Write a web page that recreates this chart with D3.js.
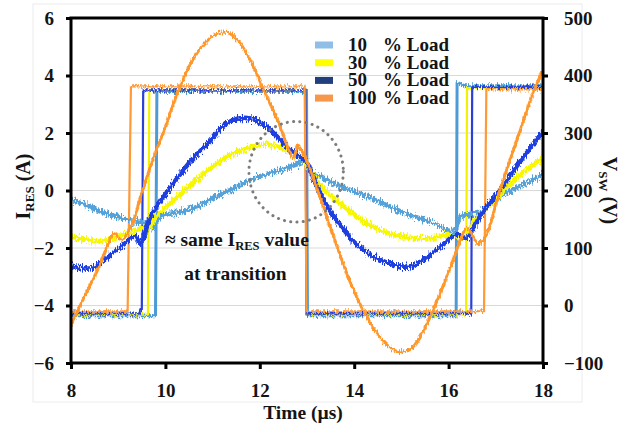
<!DOCTYPE html>
<html>
<head>
<meta charset="utf-8">
<script src="https://cdn.jsdelivr.net/npm/d3@7"></script>
<style>
  html, body { margin: 0; padding: 0; background: #fff; }
  svg { display: block; }
  svg text { font-family: "Liberation Serif", "DejaVu Serif", "Times New Roman", Times, serif; font-weight: bold; fill: #141414; }
</style>
</head>
<body>
<svg id="chart" width="625" height="424"></svg>
<script>
// Time axis (µs), current axis (A) and switch-node voltage axis (V)
const timeTicks = [8, 10, 12, 14, 16, 18];
const currentTicks = [-6, -4, -2, 0, 2, 4, 6];
const voltageTicks = [-100, 0, 100, 200, 300, 400, 500];
const gridCurrents = [-4, -2, 0, 2, 4];

const loads = ["10", "30", "50", "100"];

// Resonant current I_RES [time µs, current A]
const iRes10 = [
  [8.0,-0.32],[8.3,-0.5],[8.6,-0.72],[8.9,-0.88],[9.3,-1.05],[9.6,-1.15],[9.72,-1.35],[9.8,-1.1],
  [9.9,-0.9],[10.3,-0.75],[10.7,-0.55],[11.05,-0.22],[11.4,0.03],[11.75,0.32],[12.1,0.55],
  [12.45,0.72],[12.8,0.92],[12.96,1.0],[13.05,0.65],[13.3,0.48],[13.55,0.26],[13.9,0.03],
  [14.26,-0.2],[14.6,-0.45],[14.97,-0.72],[15.3,-0.92],[15.68,-1.13],[15.96,-1.38],[16.1,-1.4],
  [16.17,-1.25],[16.25,-0.9],[16.4,-0.84],[16.73,-0.67],[17.08,-0.22],[17.44,0.09],[17.79,0.38],[18.0,0.55]
];
const iRes30 = [
  [8.0,-1.6],[8.3,-1.7],[8.6,-1.77],[8.93,-1.65],[9.29,-1.42],[9.57,-1.3],[9.64,-1.35],[9.78,-0.96],
  [9.99,-0.61],[10.34,-0.09],[10.7,0.43],[11.05,0.9],[11.4,1.25],[11.76,1.48],[12.11,1.6],
  [12.46,1.48],[12.75,1.25],[12.9,1.13],[12.99,0.9],[13.28,0.18],[13.55,-0.24],[13.91,-0.72],
  [14.26,-1.13],[14.62,-1.42],[14.97,-1.6],[15.32,-1.66],[15.68,-1.65],[16.03,-1.54],[16.31,-1.65],
  [16.4,-1.5],[16.53,-1.07],[16.73,-0.72],[17.08,-0.14],[17.44,0.43],[17.79,0.9],[18.0,1.13]
];
const iRes50 = [
  [8.0,-2.64],[8.44,-2.7],[8.72,-2.4],[9.07,-1.94],[9.36,-1.6],[9.46,-1.85],[9.55,-1.6],[9.64,-1.07],
  [9.85,-0.49],[10.2,0.32],[10.56,1.07],[10.91,1.65],[11.26,2.29],[11.62,2.52],[11.9,2.46],
  [12.18,2.17],[12.46,1.71],[12.68,1.36],[12.89,1.13],[12.99,1.01],[13.13,0.43],[13.41,-0.5],
  [13.7,-1.19],[14.05,-1.88],[14.4,-2.29],[14.83,-2.58],[15.18,-2.64],[15.53,-2.35],[15.88,-1.88],
  [16.17,-1.54],[16.38,-1.65],[16.53,-1.3],[16.73,-0.72],[17.08,-0.02],[17.44,0.84],[17.79,1.6],[18.0,2.06]
];
const iRes100 = [
  [8.0,-4.7],[8.3,-3.64],[8.58,-2.7],[8.86,-1.6],[8.92,-1.5],[9.07,-1.72],[9.29,-1.19],[9.5,-0.09],
  [9.71,0.96],[9.99,2.17],[10.27,3.45],[10.56,4.49],[10.84,5.13],[11.12,5.48],[11.33,5.48],
  [11.55,5.19],[11.83,4.43],[12.11,3.4],[12.39,2.4],[12.6,1.48],[12.72,1.12],[12.8,1.55],
  [12.9,1.35],[13.06,0.78],[13.28,-0.26],[13.55,-1.54],[13.91,-3.16],[14.26,-4.38],[14.62,-5.25],
  [14.9,-5.59],[15.18,-5.54],[15.46,-4.9],[15.75,-3.86],[16.03,-2.7],[16.24,-1.77],[16.38,-1.3],
  [16.5,-1.55],[16.62,-1.85],[16.75,-1.7],[16.85,-1.35],[17.08,-0.02],[17.44,1.71],[17.79,3.39],[18.0,4.2]
];

// Switch-node voltage V_SW [time µs, voltage V]
const vSw10 = [
  [8.0,-18],[9.79,-18],[9.82,372],[12.99,372],[13.01,-18],[16.16,-18],[16.18,388],[16.35,382],[18.0,382]
];
const vSw30 = [
  [8.0,-16],[9.63,-16],[9.66,374],[12.97,374],[12.99,-16],[16.37,-16],[16.39,378],[18.0,378]
];
const vSw50 = [
  [8.0,-14],[9.45,-14],[9.47,-8],[9.5,-8],[9.53,374],[12.97,374],[12.99,-14],[16.48,-14],[16.5,380],[18.0,380]
];
const vSw100 = [
  [8.0,-10],[9.2,-10],[9.27,381],[12.95,381],[12.99,-10],[16.75,-10],[16.8,376],[18.0,376]
];

const currents = [iRes10, iRes30, iRes50, iRes100];
const voltages = [vSw10, vSw30, vSw50, vSw100];

// Styling
const FONT = "'Liberation Serif', 'DejaVu Serif', 'Times New Roman', Times, serif";
const traceColors = ["#55a2da", "#f7f700", "#1e3ee0", "#ff982c"];
const edgeColors = ["#4d9bd6", "#f2f200", "#2a40d8", "#ff9a36"];
const swatchColors = ["#8fbfe8", "#ffff00", "#203f7c", "#f7974c"];

const svg = d3.select("#chart").attr("font-family", FONT).attr("font-weight", "bold");
const W = 625, H = 424;
const mLeft = 71, mRight = 543, mTop = 18, mBottom = 363;

const x = d3.scaleLinear().domain([8, 18]).range([mLeft, mRight]);
const yI = d3.scaleLinear().domain([-6, 6]).range([mBottom, mTop]);
const yV = d3.scaleLinear().domain([-100, 500]).range([mBottom, mTop]);

// Oscilloscope-style sample jitter: displace vertically only
const defs = svg.append("defs");
function jitter(id, freq, scale, seed) {
  const f = defs.append("filter").attr("id", id)
    .attr("filterUnits", "userSpaceOnUse")
    .attr("x", 0).attr("y", 0).attr("width", W).attr("height", H)
    .attr("color-interpolation-filters", "sRGB");
  f.append("feTurbulence").attr("type", "fractalNoise")
    .attr("baseFrequency", freq).attr("numOctaves", 2).attr("seed", seed).attr("result", "n");
  f.append("feColorMatrix").attr("in", "n").attr("type", "matrix")
    .attr("values", "0 0 0 0 0.5  1 0 0 0 0  0 0 0 0 0  0 0 0 0 1").attr("result", "m");
  f.append("feDisplacementMap").attr("in", "SourceGraphic").attr("in2", "m")
    .attr("scale", scale).attr("xChannelSelector", "R").attr("yChannelSelector", "G");
}
jitter("jit", "0.8 0.25", 11, 4);
jitter("jitSmall", "0.8 0.25", 8, 7);

// faint chart-area border
svg.append("rect").attr("x", 33).attr("y", 4).attr("width", 549).attr("height", 398)
  .attr("fill", "none").attr("stroke", "#ececec").attr("stroke-width", 1);

// horizontal gridlines
svg.append("g").selectAll("line").data(gridCurrents).join("line")
  .attr("x1", mLeft).attr("x2", mRight)
  .attr("y1", d => yI(d)).attr("y2", d => yI(d))
  .attr("stroke", "#d9d9d9").attr("stroke-width", 1.2);

const plot = svg.append("g");

// switching voltage waveforms
const vLine = d3.line().x(d => x(d[0])).y(d => yV(d[1]));
voltages.forEach((s, i) => {
  plot.append("path").datum(s)
    .attr("d", vLine)
    .attr("fill", "none")
    .attr("stroke", edgeColors[i])
    .attr("stroke-width", i === 0 ? 3 : 2.2)
    .attr("stroke-linejoin", "round")
    .attr("filter", "url(#jitSmall)");
});

// resonant current waveforms
const iLine = d3.line().x(d => x(d[0])).y(d => yI(d[1])).curve(d3.curveCatmullRom.alpha(0.5));
currents.forEach((s, i) => {
  plot.append("path").datum(s)
    .attr("d", iLine)
    .attr("fill", "none")
    .attr("stroke", traceColors[i])
    .attr("stroke-width", i === 3 ? 3 : 4.6)
    .attr("stroke-linejoin", "round")
    .attr("filter", i === 3 ? "url(#jitSmall)" : "url(#jit)");
});

// transition highlight
const cx = 12.77, cy = 0.65, rT = 1.0, rI = 1.75;
svg.append("ellipse")
  .attr("cx", x(cx)).attr("cy", yI(cy))
  .attr("rx", x(cx + rT) - x(cx)).attr("ry", yI(cy) - yI(cy + rI))
  .attr("fill", "none").attr("stroke", "#7c7c7c")
  .attr("stroke-width", 3).attr("stroke-linecap", "round")
  .attr("stroke-dasharray", "0.1 6.2");

// annotation
const note = svg.append("text").attr("x", x(9.99)).attr("y", yI(-1.92)).style("font-size", "19.5px");
note.append("tspan").text("≈ same I");
note.append("tspan").text("RES").attr("dy", 4).style("font-size", "12.5px");
note.append("tspan").text(" value").attr("dy", -4);
svg.append("text").attr("x", x(10.4)).attr("y", yI(-3.12)).style("font-size", "19.5px").text("at transition");

// axes
const fontTick = "19px";
const gL = svg.append("g").attr("transform", `translate(${mLeft},0)`)
  .call(d3.axisLeft(yI).tickValues(currentTicks).tickSize(5).tickPadding(12).tickFormat(d3.format("d")));
const gR = svg.append("g").attr("transform", `translate(${mRight},0)`)
  .call(d3.axisRight(yV).tickValues(voltageTicks).tickSize(5).tickPadding(16).tickFormat(d3.format("d")));
const gB = svg.append("g").attr("transform", `translate(0,${mBottom})`)
  .call(d3.axisBottom(x).tickValues(timeTicks).tickSize(6).tickPadding(15).tickFormat(d3.format("d")));
[gL, gR, gB].forEach(g => {
  g.select(".domain").remove();
  g.attr("font-family", FONT).attr("font-size", null);
  g.selectAll(".tick line").attr("stroke", "#000").attr("stroke-width", 3);
  g.selectAll(".tick text").style("font-size", fontTick).attr("fill", "#141414");
});

// plot frame
svg.append("rect").attr("x", mLeft).attr("y", mTop)
  .attr("width", mRight - mLeft).attr("height", mBottom - mTop)
  .attr("fill", "none").attr("stroke", "#000").attr("stroke-width", 3);

// axis titles
const yt = svg.append("text").attr("transform", `translate(30,${(mTop + mBottom) / 2 - 4}) rotate(-90)`)
  .attr("text-anchor", "middle").style("font-size", "20px");
yt.append("tspan").text("I");
yt.append("tspan").text("RES").attr("dy", 4).style("font-size", "13px");
yt.append("tspan").text(" (A)").attr("dy", -4);

const vt = svg.append("text").attr("transform", `translate(603,${(mTop + mBottom) / 2}) rotate(90)`)
  .attr("text-anchor", "middle").style("font-size", "20px");
vt.append("tspan").text("V");
vt.append("tspan").text("SW").attr("dy", 4).style("font-size", "13px");
vt.append("tspan").text(" (V)").attr("dy", -4);

svg.append("text").attr("x", (mLeft + mRight) / 2 - 4).attr("y", 419)
  .attr("text-anchor", "middle").style("font-size", "19.5px").text("Time (µs)");

// legend
const lg = svg.append("g").attr("transform", "translate(315,45)");
loads.forEach((l, i) => {
  const row = lg.append("g").attr("transform", `translate(0,${i * 17.7})`);
  row.append("rect").attr("x", 0).attr("y", -3.5).attr("width", 18).attr("height", 7)
    .attr("fill", swatchColors[i]);
  row.append("text").attr("x", 33).attr("y", 6).style("font-size", "19px").text(l);
  row.append("text").attr("x", 68).attr("y", 6).style("font-size", "19px").text("% Load");
});
</script>
</body>
</html>
